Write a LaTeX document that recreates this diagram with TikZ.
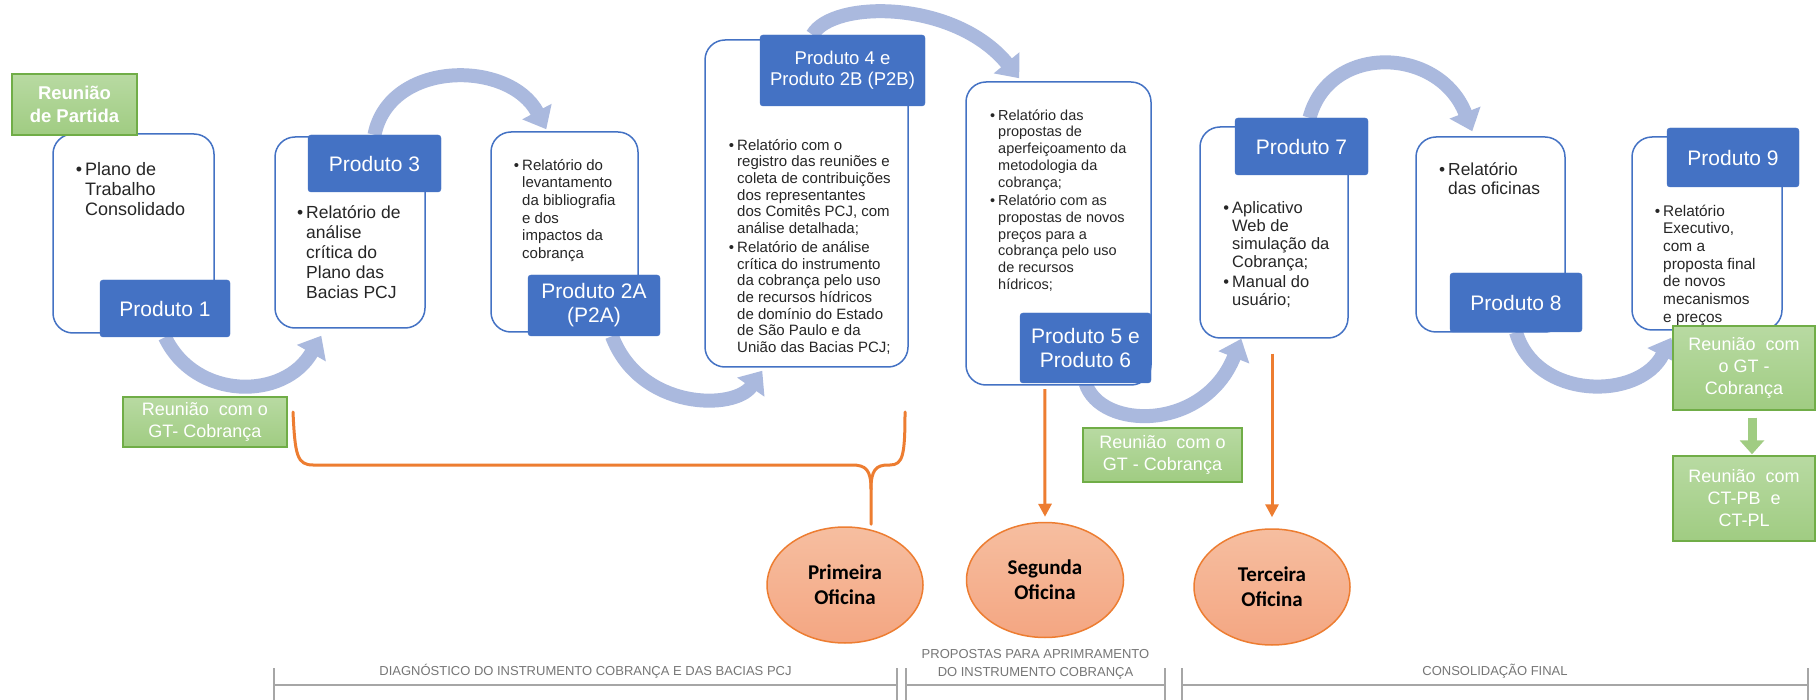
\documentclass[tikz,border=0pt]{standalone}
\usepackage{fontspec}
\setmainfont{Liberation Sans}
\newfontfamily\ovalfont{Carlito}
\usepackage{tikz}
\usetikzlibrary{
  shapes.geometric,
  arrows.meta,
  calc,
  backgrounds
}
\definecolor{cardblue}{RGB}{68, 114, 196}
\definecolor{prodblue}{RGB}{68, 114, 196}
\definecolor{flowblue}{RGB}{170, 185, 222}
\definecolor{meetgreen}{RGB}{112, 173, 71}
\definecolor{meettop}{RGB}{184, 218, 162}
\definecolor{meetbottom}{RGB}{160, 204, 130}
\definecolor{orangeline}{RGB}{237, 125, 49}
\definecolor{ovaltop}{RGB}{246, 190, 160}
\definecolor{ovalbottom}{RGB}{244, 166, 130}
\definecolor{textdark}{RGB}{38, 38, 38}
\definecolor{phasegray}{RGB}{118, 118, 118}
\definecolor{phaserule}{RGB}{166, 166, 166}
\newcommand{\bul}{\llap{\textbullet\hspace{3pt}}\rule{0pt}{0.8em}}
\tikzset{
cardbox/.style={
  draw=cardblue,
  line width=1.5pt,
  fill=white,
  rounded corners=20pt,
  inner sep=0pt
},
prodbox/.style={
  draw=prodblue,
  fill=prodblue,
  text=white,
  rounded corners=3pt,
  inner sep=0pt,
  align=center,
  font=\fontsize{21}{24}\selectfont
},
meetbox/.style={
  draw=meetgreen,
  line width=1.5pt,
  top color=meettop,
  bottom color=meetbottom,
  text=white,
  inner sep=0pt,
  align=center,
  font=\fontsize{18}{22}\selectfont
},
oficina/.style={
  ellipse,
  draw=orangeline,
  line width=1.5pt,
  top color=ovaltop,
  bottom color=ovalbottom,
  inner sep=0pt,
  align=center,
  text=black,
  font=\ovalfont\bfseries\fontsize{21}{25}\selectfont
},
cardtext/.style={
  anchor=north west,
  inner sep=0pt,
  align=left,
  text=textdark
},
phaselabel/.style={
  text=phasegray,
  inner sep=0pt,
  align=center,
  font=\fontsize{13}{17.5}\selectfont
},
phaseline/.style={
  draw=phaserule,
  line width=2pt
},
flow/.style={
  draw=flowblue,
  line width=14pt,
  -{Triangle[length=20pt,width=32pt]}
},
orangearrow/.style={
  draw=orangeline,
  line width=3pt,
  -{Triangle[length=13pt,width=13pt]}
},
brace/.style={
  draw=orangeline,
  line width=3pt,
  line cap=round
},
greenarrow/.style={
  draw=meetbottom,
  line width=9pt,
  -{Triangle[length=14pt,width=24pt]}
}
}

\begin{document}
\begin{tikzpicture}[x=1pt, y=-1pt]
  \useasboundingbox (0,0) rectangle (1818,700);

  % Cards
  \node[cardbox, minimum width=161pt, minimum height=199pt] (card1) at (133.5,233.5) {};
  \node[cardbox, minimum width=150pt, minimum height=191pt] (card2) at (350,232.5) {};
  \node[cardbox, minimum width=147pt, minimum height=200pt] (card3) at (564.5,232) {};
  \node[cardbox, minimum width=203pt, minimum height=327pt] (card4) at (806.5,203.5) {};
  \node[cardbox, minimum width=185pt, minimum height=303pt] (card5) at (1058.5,233.5) {};
  \node[cardbox, minimum width=148pt, minimum height=211pt] (card7) at (1274,232.5) {};
  \node[cardbox, minimum width=149pt, minimum height=195pt] (card8) at (1490.5,234.5) {};
  \node[cardbox, minimum width=150pt, minimum height=193pt] (card9) at (1707,233.5) {};

  % Card texts
  \node[cardtext, font=\fontsize{18}{20}\selectfont] (txt1) at (85,160.5)
    {\bul Plano de\\Trabalho\\Consolidado};
  \node[cardtext, font=\fontsize{17.5}{20}\selectfont] (txt2) at (306,204)
    {\bul Relatório de\\análise\\crítica do\\Plano das\\Bacias PCJ};
  \node[cardtext, font=\fontsize{15}{17.7}\selectfont] (txt3) at (522,158)
    {\bul Relatório do\\levantamento\\da bibliografia\\e dos\\impactos da\\cobrança};
  \node[cardtext, font=\fontsize{15}{16.7}\selectfont] (txt4) at (737,138)
    {\bul Relatório com o\\registro das reuniões e\\coleta de contribuições\\dos representantes\\dos Comitês PCJ, com\\análise detalhada;\\[2pt]
     \bul Relatório de análise\\crítica do instrumento\\da cobrança pelo uso\\de recursos hídricos\\de domínio do Estado\\de São Paulo e da\\União das Bacias PCJ;};
  \node[cardtext, font=\fontsize{14.5}{16.7}\selectfont] (txt5) at (998,108.5)
    {\bul Relatório das\\propostas de\\aperfeiçoamento da\\metodologia da\\cobrança;\\[2pt]
     \bul Relatório com as\\propostas de novos\\preços para a\\cobrança pelo uso\\de recursos\\hídricos;};
  \node[cardtext, font=\fontsize{16.5}{18}\selectfont] (txt7) at (1232,200)
    {\bul Aplicativo\\Web de\\simulação da\\Cobrança;\\[2pt]\bul Manual do\\usuário;};
  \node[cardtext, font=\fontsize{17.4}{19}\selectfont] (txt8) at (1448,161)
    {\bul Relatório\\das oficinas};
  \node[cardtext, font=\fontsize{15.4}{17.7}\selectfont] (txt9) at (1663,203.5)
    {\bul Relatório\\Executivo,\\com a\\proposta final\\de novos\\mecanismos\\e preços};

  % Products
  \node[prodbox, minimum width=130pt, minimum height=57pt] (p1) at (165,308.5) {Produto 1};
  \node[prodbox, minimum width=133pt, minimum height=57pt] (p3) at (374.5,163.5) {Produto 3};
  \node[prodbox, minimum width=132pt, minimum height=61pt] (p2a) at (594,305.5) {Produto 2A\\(P2A)};
  \node[prodbox, minimum width=165pt, minimum height=71pt, font=\fontsize{18.5}{21}\selectfont] (p4) at (842.5,70.5)
    {Produto 4 e\\Produto 2B (P2B)};
  \node[prodbox, minimum width=131pt, minimum height=70pt] (p56) at (1085.5,348) {Produto 5 e\\Produto 6};
  \node[prodbox, minimum width=133pt, minimum height=57pt] (p7) at (1301.5,146.5) {Produto 7};
  \node[prodbox, minimum width=132pt, minimum height=59pt] (p8) at (1516,302.5) {Produto 8};
  \node[prodbox, minimum width=132pt, minimum height=59pt] (p9) at (1733,157.5) {Produto 9};

  % Meetings
  \node[meetbox, minimum width=125pt, minimum height=61pt, font=\bfseries\fontsize{18.5}{23}\selectfont] (partida) at (74.5,104.5)
    {Reunião\\de Partida};
  \node[meetbox, minimum width=164pt, minimum height=50pt] (gt1) at (205,422) {Reunião~ com o\\GT- Cobrança};
  \node[meetbox, minimum width=159pt, minimum height=54pt] (gt2) at (1162.5,455) {Reunião~ com o\\GT - Cobrança};
  \node[meetbox, minimum width=142pt, minimum height=84pt] (gt3) at (1744,368) {Reunião~ com\\o GT -\\Cobrança};
  \node[meetbox, minimum width=142pt, minimum height=85pt] (ctpb) at (1744,498.5) {Reunião~ com\\CT-PB~ e\\CT-PL};

  % Workshops
  \node[oficina, minimum width=156pt, minimum height=116pt] (prim) at (845,585) {Primeira\\Oficina};
  \node[oficina, minimum width=157pt, minimum height=115pt] (seg) at (1045,580) {Segunda\\Oficina};
  \node[oficina, minimum width=156pt, minimum height=116pt] (ter) at (1272,587) {Terceira\\Oficina};

  % Flow arcs behind the boxes
  \begin{scope}[on background layer]
    \fill[white] (0,0) rectangle (1818,700);
    \draw[flow] (p1.south) .. controls +(30,63) and +(-37,65) .. ($(card2.south west)+(47,7)$);
    \draw[flow] (p3.north) .. controls +(15,-75) and +(-37,-70) .. ($(card3.north west)+(56,-2)$);
    \draw[flow] ($(p2a.south)+(18,0)$) .. controls +(28,74) and +(-28,40) .. ($(card4.south west)+(58,3)$);
    \draw[flow] ($(p4.north)+(-30,0)$) .. controls +(20,-35) and +(-65,-79) .. ($(card5.north west)+(54,-3)$);
    \draw[flow] (p56.south) .. controls +(15,47) and +(-37,93) .. ($(card7.south west)+(42,0)$);
    \draw[flow] ($(p7.north)+(8,0)$) .. controls +(20,-75) and +(-33,-85) .. ($(card8.north west)+(57,-5)$);
    \draw[flow] (p8.south) .. controls +(20,68) and +(-32,63) .. ($(card9.south west)+(40,7)$);
  \end{scope}

  % Workshop links
  \coordinate (bl) at (293,412);
  \coordinate (br) at (905,412);
  \coordinate (bm) at ($(prim.north)+(26,-37)$);
  \coordinate (bt) at ($(prim.north)+(26,-2)$);
  \draw[brace] (bl) .. controls (295,455) and (297,465) .. (313,465) -- (852,465)
    .. controls (866,465) and (871,470) .. (bm) -- (bt);
  \draw[brace] (bm) .. controls (871,470) and (876,465) .. (888,465) -- (890,465)
    .. controls (903,465) and (905,455) .. (br);
  \draw[orangearrow] ($(p56.south west)+(25,6)$) -- ($(seg.north)+(0,-5)$);
  \draw[orangearrow] ($(card7.south)+(-2,15)$) -- ($(ter.north)+(0,-11)$);
  \draw[greenarrow] ($(gt3.south)+(8,7)$) -- ($(ctpb.north)+(8,-1)$);

  % Phases
  \foreach \a/\b in {274/897, 906/1165, 1182/1808} {
    \draw[phaseline] (\a,668) -- (\a,700);
    \draw[phaseline] (\b,668) -- (\b,700);
    \draw[phaseline] (\a,685) -- (\b,685);
  }
  \node[phaselabel] (ph1) at (585.5,671) {DIAGNÓSTICO DO INSTRUMENTO COBRANÇA E DAS BACIAS PCJ};
  \node[phaselabel] (ph2) at (1035.5,664.5) {PROPOSTAS PARA APRIMRAMENTO\\DO INSTRUMENTO COBRANÇA};
  \node[phaselabel] (ph3) at (1495,671) {CONSOLIDAÇÃO FINAL};
\end{tikzpicture}
\end{document}
